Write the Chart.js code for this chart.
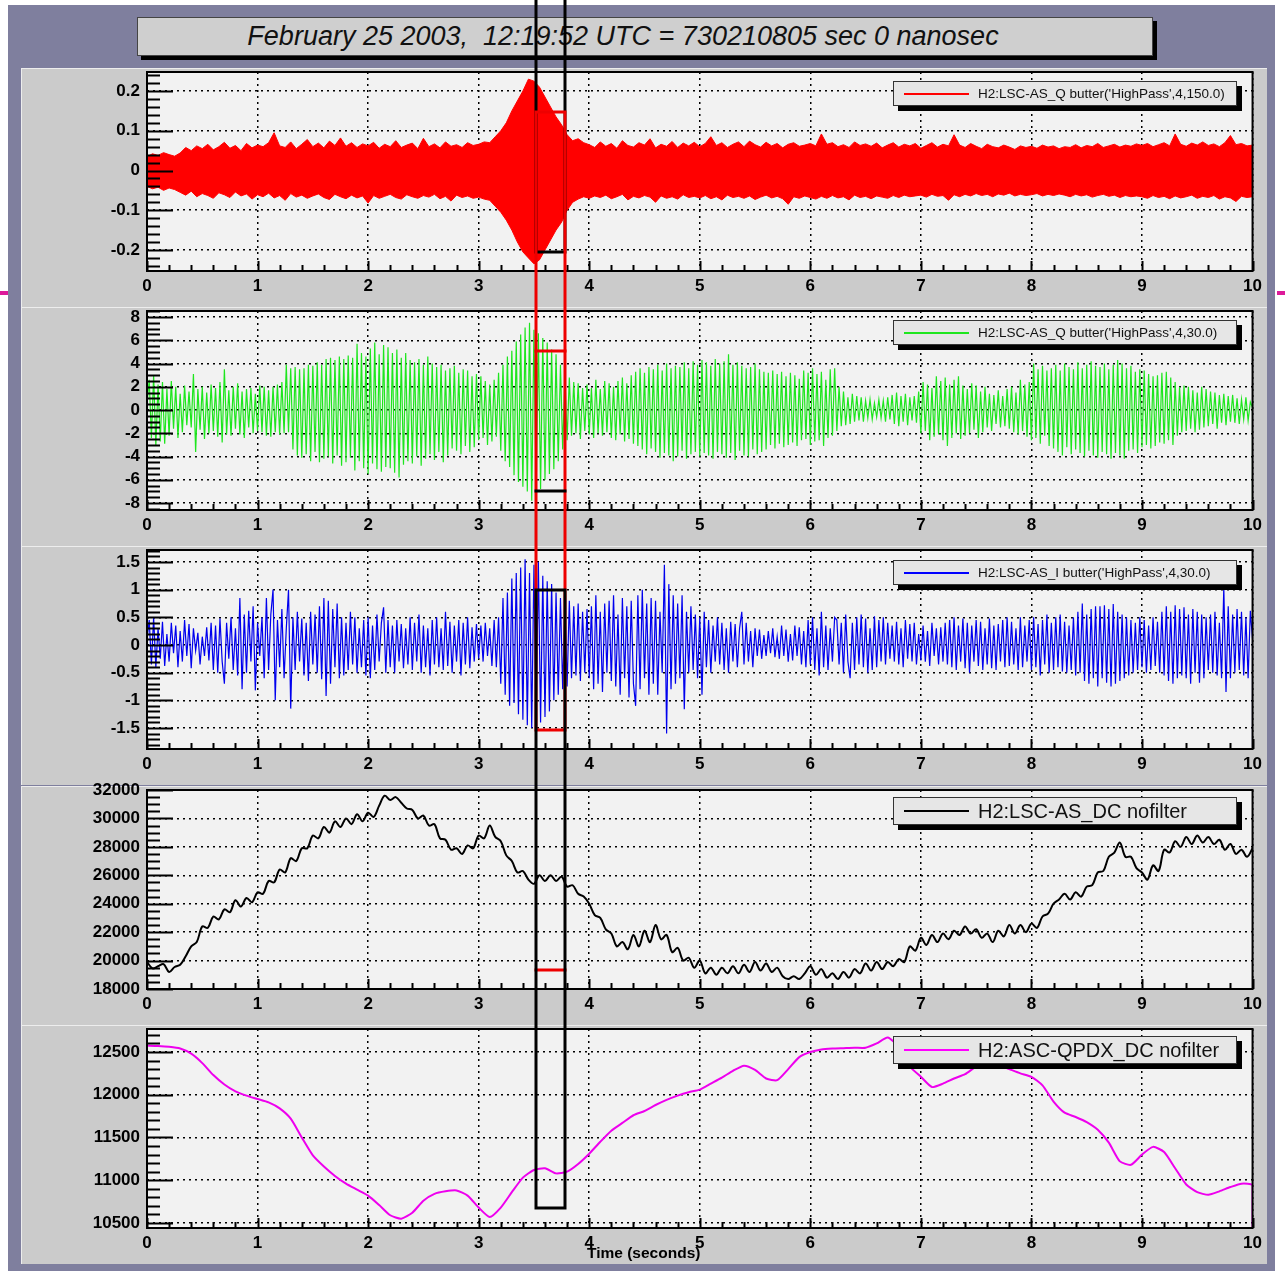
<!DOCTYPE html>
<html>
<head>
<meta charset="utf-8">
<script src="https://cdn.jsdelivr.net/npm/chart.js@4.4.1/dist/chart.umd.min.js"></script>
<style>
  html, body { margin: 0; padding: 0; background: #fff; }
  body { width: 1285px; height: 1271px; position: relative; overflow: hidden; font-family: 'Liberation Sans', Arial, sans-serif; }
  #frame { position: absolute; left: 8px; top: 5px; width: 1267px; height: 1266px; background: #7f7f9e; }
  .panel { position: absolute; left: 21px; width: 1246px; height: 245px; }
  .panel canvas { display: block; }
  #title { position: absolute; left: 137px; top: 17px; width: 970px; padding-right: 44px; height: 37px; background: #cfcfcf; border: 1px solid #444;
           box-shadow: 4px 4px 0 #000; font-style: italic; font-size: 27px; line-height: 37px; text-align: center; white-space: pre; color: #111; }
  .legend { position: absolute; left: 893px; width: 342px; background: #e6e6e6; border: 1px solid #333; box-shadow: 5px 5px 0 #000; }
  .legend i { position: absolute; left: 10px; width: 65px; height: 2px; top: 50%; margin-top: -1px; }
  .legend span { position: absolute; left: 84px; top: 0; white-space: pre; color: #111; }
  .small span { font-size: 13.5px; line-height: 23px; }
  .big span { font-size: 20px; line-height: 26px; }
  #xtitle { position: absolute; left: 587px; top: 1244px; font-size: 15.5px; font-weight: bold; color: #000; white-space: pre; }
  .pink { position: absolute; top: 291px; width: 8px; height: 4px; background: #dd1a9a; }
  #marks { position: absolute; left: 0; top: 0; pointer-events: none; z-index: 10; }
</style>
</head>
<body>
<div id="frame"></div>
<div class="pink" style="left:0"></div>
<div class="pink" style="left:1277px"></div>

<div class="panel" style="top:62px"><canvas id="c0" width="1246" height="245"></canvas></div>
<div class="panel" style="top:301px"><canvas id="c1" width="1246" height="245"></canvas></div>
<div class="panel" style="top:540px"><canvas id="c2" width="1246" height="245"></canvas></div>
<div class="panel" style="top:780px"><canvas id="c3" width="1246" height="245"></canvas></div>
<div class="panel" style="top:1019px"><canvas id="c4" width="1246" height="245"></canvas></div>

<div id="title">February 25 2003,  12:19:52 UTC = 730210805 sec 0 nanosec</div>

<div class="legend small" style="top:81px;height:23px"><i style="background:#f00"></i><span>H2:LSC-AS_Q butter('HighPass',4,150.0)</span></div>
<div class="legend small" style="top:320px;height:23px"><i style="background:#1ee61e"></i><span>H2:LSC-AS_Q butter('HighPass',4,30.0)</span></div>
<div class="legend small" style="top:560px;height:23px"><i style="background:#00f"></i><span>H2:LSC-AS_I butter('HighPass',4,30.0)</span></div>
<div class="legend big" style="top:797px;height:26px"><i style="background:#000"></i><span>H2:LSC-AS_DC nofilter</span></div>
<div class="legend big" style="top:1036px;height:26px"><i style="background:#f0f"></i><span>H2:ASC-QPDX_DC nofilter</span></div>

<div id="xtitle">Time (seconds)</div>
<canvas id="marks" width="1285" height="1271"></canvas>

<script>
// time axis
const X_TICKS = [0, 1, 2, 3, 4, 5, 6, 7, 8, 9, 10];

// tick labels of each pad
const Y_TICKS_Q150 = [-0.2, -0.1, 0, 0.1, 0.2];
const Y_TICKS_Q30 = [-8, -6, -4, -2, 0, 2, 4, 6, 8];
const Y_TICKS_I30 = [-1.5, -1, -0.5, 0, 0.5, 1, 1.5];
const Y_TICKS_DC = [18000, 20000, 22000, 24000, 26000, 28000, 30000, 32000];
const Y_TICKS_QPDX = [10500, 11000, 11500, 12000, 12500];

// H2:LSC-AS_Q 150 Hz high pass, envelope of the dense trace, one value every 0.05 s
const Q150_UPPER = [
  0.035, 0.042, 0.038, 0.045, 0.04, 0.036, 0.044, 0.058, 0.05, 0.062, 0.055, 0.066, 0.052, 0.06, 0.071, 0.056, 0.063, 0.05, 0.068, 0.057,
  0.064, 0.06, 0.07, 0.095, 0.062, 0.058, 0.072, 0.055, 0.066, 0.078, 0.06, 0.069, 0.057, 0.074, 0.063, 0.082, 0.061, 0.07, 0.058, 0.067,
  0.062, 0.071, 0.056, 0.066, 0.06, 0.075, 0.058, 0.064, 0.069, 0.055, 0.081, 0.06, 0.067, 0.057, 0.072, 0.061, 0.065, 0.058, 0.07, 0.063,
  0.066, 0.072, 0.07, 0.085, 0.1, 0.12, 0.15, 0.175, 0.2, 0.23, 0.225, 0.21, 0.185, 0.16, 0.135, 0.115, 0.09, 0.075, 0.08, 0.07,
  0.065, 0.058, 0.072, 0.061, 0.068, 0.056, 0.075, 0.063, 0.059, 0.07, 0.064, 0.08, 0.057, 0.066, 0.061, 0.073, 0.058, 0.069, 0.062, 0.071,
  0.06, 0.068, 0.085, 0.063, 0.07, 0.058, 0.066, 0.072, 0.06, 0.074, 0.065, 0.059, 0.071, 0.062, 0.068, 0.057, 0.066, 0.07, 0.061, 0.064,
  0.068, 0.062, 0.092, 0.066, 0.07, 0.06, 0.065, 0.058, 0.072, 0.063, 0.067, 0.061, 0.069, 0.057, 0.064, 0.07, 0.059, 0.066, 0.062, 0.068,
  0.056, 0.063, 0.07, 0.059, 0.066, 0.062, 0.09, 0.064, 0.058, 0.068, 0.061, 0.055, 0.066, 0.06, 0.057, 0.064, 0.059, 0.053, 0.062, 0.058,
  0.061, 0.056, 0.064, 0.059, 0.062, 0.055, 0.06, 0.058, 0.065, 0.057, 0.063, 0.06, 0.068, 0.058, 0.062, 0.066, 0.059, 0.064, 0.061, 0.067,
  0.063, 0.068, 0.06, 0.065, 0.07, 0.062, 0.092, 0.066, 0.061, 0.069, 0.064, 0.072, 0.063, 0.067, 0.06, 0.07, 0.088, 0.065, 0.068, 0.062,
  0.064
];
const Q150_LOWER = [
  -0.04, -0.046, -0.042, -0.05, -0.044, -0.048, -0.055, -0.062, -0.052, -0.066, -0.058, -0.063, -0.07, -0.056, -0.061, -0.068, -0.054, -0.064, -0.059, -0.072,
  -0.061, -0.066, -0.057, -0.069, -0.063, -0.075, -0.058, -0.067, -0.062, -0.07, -0.064, -0.059, -0.068, -0.073, -0.06, -0.066, -0.071, -0.062, -0.069, -0.064,
  -0.082, -0.063, -0.07, -0.065, -0.06, -0.068, -0.072, -0.061, -0.066, -0.07, -0.063, -0.067, -0.06, -0.071, -0.065, -0.077, -0.062, -0.068, -0.064, -0.07,
  -0.067, -0.072, -0.075, -0.09, -0.105, -0.125, -0.15, -0.18, -0.205, -0.22, -0.235, -0.225, -0.2, -0.175, -0.15, -0.13, -0.1, -0.08, -0.072, -0.066,
  -0.07, -0.064, -0.068, -0.062, -0.071, -0.066, -0.06, -0.074, -0.065, -0.069, -0.063, -0.067, -0.08, -0.064, -0.07, -0.066, -0.072, -0.061, -0.068, -0.065,
  -0.069, -0.063, -0.071, -0.066, -0.074, -0.062, -0.068, -0.065, -0.07, -0.064, -0.073, -0.067, -0.062, -0.069, -0.065, -0.071, -0.085, -0.066, -0.07, -0.064,
  -0.068, -0.072, -0.065, -0.07, -0.063, -0.069, -0.066, -0.074, -0.062, -0.068, -0.065, -0.071, -0.064, -0.067, -0.07, -0.063, -0.068, -0.062, -0.066, -0.064,
  -0.062, -0.067, -0.06, -0.065, -0.063, -0.075, -0.061, -0.066, -0.06, -0.064, -0.058, -0.063, -0.06, -0.066, -0.059, -0.062, -0.057, -0.064, -0.06, -0.063,
  -0.061, -0.058, -0.064, -0.06, -0.063, -0.059, -0.062, -0.066, -0.06, -0.064, -0.061, -0.067, -0.063, -0.06, -0.065, -0.062, -0.068, -0.063, -0.066, -0.064,
  -0.066, -0.07, -0.063, -0.068, -0.065, -0.071, -0.064, -0.069, -0.066, -0.062, -0.07, -0.065, -0.068, -0.063, -0.072, -0.066, -0.069, -0.078, -0.065, -0.068,
  -0.066
];
const Q150_END = -0.253;

// H2:LSC-AS_Q 30 Hz high pass, one value every 0.02 s
const Q30 = [
  0.5, 2.6, -2.4, 3.0, -3.1, 2.2, -2.7, 2.4, -2.9, 1.8,
  -2.2, 2.5, -1.6, 2.0, -2.4, 1.4, -1.9, 2.1, -1.3, 1.6,
  -1.5, 3.1, -3.6, 1.8, -1.7, 2.0, -2.5, 1.5, -2.0, 2.2,
  -1.8, 1.9, -2.3, 2.4, -2.8, 3.5, -2.1, 1.7, -2.2, 2.0,
  -1.6, 2.3, -2.1, 1.6, -2.4, 1.8, -1.5, 1.9, -2.0, 1.4,
  -1.8, 2.1, -1.9, 2.0, -2.2, 1.7, -2.3, 2.0, -1.9, 2.2,
  -2.1, 2.4, -2.0, 3.9, -1.9, 3.6, -3.4, 3.7, -3.9, 3.5,
  -4.1, 3.6, -3.8, 3.9, -4.4, 3.8, -3.6, 4.1, -4.5, 3.9,
  -4.2, 4.4, -4.0, 4.5, -4.6, 4.3, -3.9, 4.6, -4.8, 4.4,
  -4.5, 4.7, -4.1, 4.5, -5.2, 5.7, -4.4, 4.9, -5.0, 4.6,
  -5.5, 5.3, -4.6, 5.8, -5.1, 4.8, -5.3, 5.6, -4.9, 5.4,
  -5.0, 4.9, -5.4, 5.2, -5.8, 4.5, -4.7, 4.9, -4.4, 4.3,
  -4.6, 4.1, -4.0, 4.4, -4.8, 3.9, -4.2, 4.6, -3.8, 4.0,
  -4.3, 3.7, -3.6, 3.9, -4.5, 3.4, -3.9, 3.6, -3.3, 3.8,
  -3.5, 3.2, -3.8, 3.5, -3.1, 3.4, -3.6, 2.9, -3.2, 3.1,
  -2.6, 2.9, -2.4, 2.5, -3.0, 2.2, -2.7, 2.6, -2.3, 3.2,
  -3.5, 3.9, -4.4, 4.6, -4.9, 5.1, -5.6, 5.9, -6.2, 6.5,
  -6.6, 7.1, -7.0, 7.5, -7.8, 6.9, -7.2, 6.6, -6.8, 6.2,
  -6.0, 5.8, -5.5, 5.2, -5.1, 4.8, -4.4, 3.9, -3.4, 2.9,
  -2.6, 2.8, -2.2, 2.4, -2.0, 2.3, -2.5, 1.9, -1.8, 2.2,
  -2.1, 1.9, -2.4, 2.6, -2.0, 1.8, -2.2, 2.5, -1.9, 2.3,
  -2.4, 2.0, -2.6, 2.5, -2.1, 2.8, -2.7, 2.3, -2.5, 3.0,
  -2.9, 3.3, -3.1, 3.6, -3.4, 3.2, -3.8, 3.7, -3.3, 3.5,
  -3.6, 3.9, -4.1, 3.4, -3.7, 4.0, -3.9, 3.6, -4.4, 3.8,
  -4.0, 3.7, -3.5, 4.1, -4.2, 3.6, -3.8, 4.2, -3.6, 3.9,
  -4.0, 4.3, -3.7, 4.1, -3.9, 3.8, -4.2, 4.4, -3.6, 4.0,
  -3.8, 4.2, -4.1, 4.8, -3.7, 3.9, -4.3, 4.1, -3.5, 3.8,
  -3.9, 3.6, -4.0, 3.7, -3.4, 4.0, -3.8, 3.5, -3.6, 3.3,
  -3.4, 3.2, -3.0, 3.4, -3.3, 3.1, -2.9, 3.3, -3.2, 2.9,
  -3.0, 3.2, -2.8, 3.0, -3.1, 2.7, -2.6, 3.4, -2.5, 3.2,
  -3.0, 3.6, -2.7, 3.1, -2.6, 3.3, -3.1, 2.6, -2.4, 3.5,
  -2.2, 3.6, -1.8, 2.0, -1.4, 1.6, -1.3, 1.1, -1.2, 1.4,
  -1.0, 1.2, -0.9, 1.1, -1.0, 0.8, -0.7, 0.9, -0.8, 0.6,
  -0.6, 0.9, -0.7, 0.8, -1.0, 1.1, -0.8, 1.3, -1.2, 1.5,
  -1.4, 1.2, -1.0, 1.4, -1.3, 1.1, -0.9, 1.2, -1.1, 1.6,
  -2.0, 2.4, -1.8, 2.2, -2.6, 1.9, -2.3, 2.9, -2.1, 2.5,
  -2.6, 2.8, -3.1, 2.2, -2.4, 2.6, -2.0, 2.9, -2.5, 2.1,
  -2.2, 1.8, -2.0, 2.3, -1.7, 2.1, -2.4, 1.6, -1.9, 2.0,
  -1.5, 1.4, -1.8, 1.3, -1.2, 1.7, -1.5, 1.2, -1.4, 1.8,
  -1.6, 2.0, -1.9, 1.5, -2.1, 2.6, -1.8, 2.2, -2.3, 2.4,
  -2.6, 4.0, -2.4, 3.5, -2.9, 3.8, -2.2, 3.4, -3.1, 3.6,
  -3.3, 3.9, -3.6, 3.4, -3.9, 4.0, -3.2, 3.7, -3.8, 3.5,
  -3.4, 4.1, -3.7, 3.6, -4.0, 3.9, -3.5, 4.2, -3.9, 3.8,
  -4.1, 3.7, -3.6, 4.0, -3.8, 3.5, -4.2, 3.9, -3.7, 4.3,
  -3.9, 4.0, -4.2, 3.6, -3.5, 3.8, -3.4, 3.3, -3.7, 3.5,
  -3.2, 3.4, -3.0, 3.1, -3.3, 2.9, -3.1, 3.0, -2.8, 3.2,
  -2.9, 3.3, -2.6, 2.8, -3.0, 2.4, -2.2, 2.0, -1.9, 2.1,
  -1.8, 2.0, -1.6, 1.7, -1.9, 1.5, -1.7, 2.0, -1.5, 1.8,
  -1.4, 1.6, -1.2, 1.5, -1.6, 1.3, -1.1, 1.4, -1.3, 1.2,
  -1.0, 1.3, -1.1, 1.0, -1.2, 0.9, -0.8, 1.1, -0.9, 0.7,
  0.2
];
const Q30_END = -8.6;

// H2:LSC-AS_I 30 Hz high pass, one value every 0.02 s
const I30 = [
  0.1, 0.45, -0.35, 0.5, -0.4, 0.3, -0.25, 0.42, -0.38, 0.2,
  -0.3, 0.4, -0.15, 0.35, -0.4, 0.25, -0.3, 0.45, -0.2, 0.38,
  -0.42, 0.3, -0.1, 0.22, -0.35, 0.15, -0.2, 0.32, -0.28, 0.4,
  -0.45, 0.35, -0.5, 0.48, -0.3, -0.7, 0.4, -0.25, 0.5, -0.45,
  0.3, -0.55, 0.85, -0.8, 0.55, -0.5, 0.62, -0.3, 0.7, -0.82,
  0.4, -0.2, 0.5, -0.6, 0.85, -0.45, 0.55, 1.0, -1.0, 0.45,
  -0.4, 0.65, -0.6, 0.3, 1.0, -1.15, 0.5, -0.45, 0.6, -0.3,
  0.48, -0.55, 0.4, -0.65, 0.6, -0.35, 0.55, -0.5, 0.7, -0.62,
  0.85, -0.92, 0.8, -0.7, 0.65, -0.4, 0.75, -0.6, 0.5, -0.55,
  0.4, -0.45, 0.6, -0.35, 0.5, -0.5, 0.3, -0.4, 0.45, -0.55,
  0.5, -0.6, 0.35, -0.45, 0.55, -0.3, 0.4, 0.68, -0.5, 0.45,
  -0.4, 0.35, -0.5, 0.45, -0.3, 0.38, -0.42, 0.3, -0.35, 0.5,
  -0.45, 0.4, -0.3, 0.55, -0.5, 0.35, -0.4, 0.3, -0.55, 0.45,
  -0.35, 0.5, -0.4, 0.3, -0.45, 0.6, -0.38, 0.42, -0.5, 0.35,
  -0.3, 0.45, -0.55, 0.4, -0.35, 0.5, -0.42, 0.32, -0.3, 0.38,
  -0.25, 0.35, -0.3, 0.4, -0.2, 0.3, -0.38, 0.45, -0.4, 0.5,
  -0.7, 0.85, -0.9, 0.95, -1.1, 1.2, -1.05, 1.3, -1.25, 1.4,
  -1.35, 1.55, -1.45, 1.3, -1.5, 1.45, -1.3, 1.5, -1.4, 1.25,
  -1.3, 1.15, -1.2, 1.1, -1.0, 0.95, -0.9, 0.85, -0.8, 0.7,
  -0.75, 0.8, -0.6, 0.7, -0.55, 0.75, -0.65, 0.6, -0.5, 0.65,
  -0.6, 0.7, -0.8, 0.9, -0.7, 0.6, -0.85, 0.75, -0.5, 0.8,
  -0.65, 0.9, -0.75, 0.55, -0.9, 0.85, -0.6, 0.7, -0.95, 0.8,
  -0.7, -1.1, 0.9, -0.8, 1.0, -0.6, 0.75, -0.9, 0.85, -0.7,
  0.8, -0.9, 0.6, -0.5, 1.45, -1.6, 1.1, -0.8, 0.9, -0.7,
  0.75, -0.6, 0.9, -1.16, 0.6, -0.5, 0.7, -0.45, 0.55, -0.6,
  0.5, -0.9, 0.6, -0.4, 0.45, -0.5, 0.35, -0.3, 0.5, -0.35,
  0.4, -0.45, 0.3, -0.5, 0.42, -0.3, 0.38, -0.4, 0.3, 0.6,
  -0.35, 0.4, -0.3, 0.25, -0.4, 0.3, -0.2, 0.28, -0.25, 0.18,
  -0.2, 0.25, -0.15, 0.3, -0.22, 0.15, -0.25, 0.35, -0.2, 0.28,
  -0.3, 0.2, -0.28, 0.35, -0.2, 0.32, -0.35, 0.25, -0.4, 0.45,
  -0.35, 0.5, -0.45, 0.3, -0.55, 0.6, -0.4, 0.35, -0.45, 0.3,
  -0.3, 0.5, 0.45, -0.35, 0.4, -0.5, 0.55, -0.3, -0.6, 0.4,
  -0.45, 0.5, -0.35, 0.55, -0.4, 0.48, -0.5, 0.3, -0.45, 0.52,
  -0.4, 0.45, -0.3, 0.5, -0.35, 0.4, -0.25, 0.35, -0.3, 0.42,
  -0.35, 0.3, -0.4, 0.45, -0.25, 0.38, -0.3, 0.4, -0.35, 0.2,
  -0.28, 0.35, -0.3, 0.25, -0.38, 0.4, -0.2, 0.3, -0.35, 0.32,
  -0.3, 0.4, -0.35, 0.45, -0.4, 0.5, -0.45, 0.35, -0.3, 0.48,
  -0.42, 0.4, -0.5, 0.35, -0.3, 0.45, -0.38, 0.42, -0.45, 0.3,
  -0.35, 0.48, -0.42, 0.35, -0.45, 0.38, -0.3, 0.45, -0.4, 0.5,
  -0.38, 0.42, -0.35, 0.3, -0.45, 0.5, -0.4, 0.35, -0.3, 0.45,
  -0.45, 0.5, -0.4, 0.38, -0.55, 0.45, -0.35, 0.55, -0.5, 0.4,
  -0.45, 0.5, -0.4, 0.55, -0.48, 0.42, -0.5, 0.35, -0.45, 0.5,
  -0.55, 0.6, -0.5, 0.75, -0.65, 0.55, -0.7, 0.65, -0.6, 0.7,
  -0.75, 0.7, -0.6, 0.72, -0.68, 0.65, -0.75, 0.74, -0.7, 0.6,
  -0.65, 0.55, -0.6, 0.5, -0.55, 0.45, -0.5, 0.4, -0.45, 0.5,
  -0.4, 0.45, -0.5, 0.35, -0.45, 0.5, -0.38, 0.42, -0.5, 0.6,
  -0.55, 0.7, -0.65, 0.6, -0.7, 0.72, -0.6, 0.65, -0.55, 0.68,
  -0.6, 0.55, -0.7, 0.65, -0.5, 0.6, -0.68, 0.55, -0.6, 0.5,
  -0.45, 0.55, -0.5, 0.6, -0.55, 0.4, -0.6, 1.04, -0.85, 0.7,
  -0.6, 0.55, -0.5, 0.65, -0.45, 0.6, -0.55, 0.5, -0.6, 0.62,
  0.1
];
const I30_END = -1.85;

// H2:LSC-AS_DC, one value every 0.05 s
const AS_DC = [
  19900, 19450, 19600, 19750, 19200, 19550, 19700, 20300, 21000, 21300, 22400, 22300, 23100, 22900, 23600, 23400, 24250, 23800, 24400, 24100,
  24800, 24700, 25600, 25500, 26400, 26200, 27200, 27000, 27900, 27900, 28800, 28600, 29400, 29000, 29800, 29400, 30000, 29600, 30300, 29800,
  30400, 30100, 30900, 31600, 31300, 31500, 31100, 30700, 30600, 30000, 30200, 29500, 29600, 28600, 28500, 27800, 27900, 27500, 28100, 27900,
  28800, 28600, 29500, 28700, 28400, 27400, 27000, 26200, 26300, 25700, 25400, 26000, 25600, 26000, 25600, 25900, 25200, 25300, 24700, 24500,
  24000, 23200, 23000, 22200, 21900, 21000, 21300, 20800, 21800, 21000, 22100, 21300, 22500, 21500, 21800, 20600, 20900, 20000, 20200, 19500,
  20000, 19100, 19500, 19000, 19500, 19100, 19600, 19100, 19700, 19200, 19900, 19300, 19800, 19200, 19500, 18900, 18700, 18900, 18700, 19100,
  19600, 19000, 19400, 18800, 19100, 18700, 19200, 18800, 19400, 19100, 19800, 19300, 19900, 19400, 19900, 19600, 20100, 19900, 21000, 20700,
  21600, 21100, 21800, 21300, 21900, 21500, 22100, 21800, 22400, 21900, 22200, 21600, 21900, 21300, 22100, 21700, 22500, 21900, 22500, 22000,
  22600, 22300, 23100, 23300, 24000, 24300, 24700, 24300, 24800, 24500, 25200, 25300, 26200, 26300, 27300, 27600, 28300, 27300, 27300, 26500,
  26200, 25700, 26700, 26300, 27800, 27600, 28400, 28000, 28700, 28200, 28800, 28300, 28700, 28200, 28500, 27800, 28200, 27500, 27800, 27300,
  27900
];

// H2:ASC-QPDX_DC, one value every 0.1 s
const QPDX_DC = [
  12575, 12570, 12560, 12540, 12480, 12370, 12230, 12120, 12040, 11990,
  11950, 11910, 11840, 11720, 11500, 11290, 11160, 11050, 10960, 10890,
  10820, 10710, 10590, 10550, 10620, 10760, 10840, 10870, 10880, 10820,
  10680, 10570, 10680, 10860, 11030, 11120, 11140, 11080, 11100, 11190,
  11310, 11450, 11580, 11670, 11760, 11810, 11880, 11940, 11990, 12030,
  12060, 12130, 12200, 12280, 12340, 12290, 12190, 12170, 12300, 12440,
  12500, 12530, 12540, 12545, 12550, 12550, 12600, 12670, 12560, 12330,
  12210, 12090, 12130, 12190, 12240, 12330, 12380, 12350, 12300, 12250,
  12210, 12110, 11920, 11790, 11740, 11680, 11590, 11440, 11220, 11180,
  11300, 11390, 11330, 11140, 10950, 10860, 10830, 10870, 10920, 10960,
  10940
];
const QPDX_END = 10445;

// the time window drawn across the pads: [colour, pad, top value, pad, bottom value]
const WINDOW_X = [3.52, 3.78];
const WINDOW_BOXES = [
  ['#000', 0, 0.6, 0, -0.205],
  ['#e00', 0, 0.1475, 2, -1.54],
  ['#000', 2, 1.0, 4, 10675]
];
const WINDOW_MARKS = [['#e00', 1, 5.1], ['#000', 1, -6.95], ['#e00', 3, 19350]];

// each canvas starts LIFT px above its pad so the top tick label is not cut
const LIFT = 6;
const CANVAS_TOP = [62, 301, 540, 780, 1019];
const PANEL_LEFT = 21;

function series(values, step, endValue) {
  const pts = values.map((v, i) => ({ x: Math.round(i * step * 1000) / 1000, y: v }));
  if (endValue !== undefined) pts.push({ x: 10, y: endValue });
  return pts;
}

Chart.defaults.font.family = "'Liberation Sans', Arial, sans-serif";

const rootFrame = {
  id: 'rootFrame',
  beforeDraw(chart) {
    const { ctx, width, height, chartArea: a } = chart;
    ctx.save();
    ctx.fillStyle = '#cbcbcb';
    ctx.fillRect(0, LIFT, width, height - LIFT);
    ctx.fillStyle = '#ededed';
    ctx.fillRect(0, LIFT, width, 1);
    ctx.fillRect(0, LIFT, 1, height - LIFT);
    ctx.fillStyle = '#f2f2f2';
    ctx.fillRect(a.left, a.top, a.right - a.left, a.bottom - a.top);
    ctx.restore();
  },
  afterDatasetsDraw(chart, args, opts) {
    const { ctx, chartArea: a } = chart;
    const xs = chart.scales.x, ys = chart.scales.y;
    ctx.save();
    ctx.strokeStyle = '#000';
    ctx.lineWidth = 2;
    ctx.beginPath();
    // y ticks, inside the frame
    for (let k = Math.ceil(ys.min / opts.minor); k * opts.minor <= ys.max; k++) {
      const v = k * opts.minor;
      const major = opts.major.some(m => Math.abs(m - v) < opts.minor / 10);
      const y = Math.round(ys.getPixelForValue(v)) + 0.5;
      ctx.moveTo(a.left, y);
      ctx.lineTo(a.left + (major ? 26 : 13), y);
    }
    // x ticks
    for (let k = 0; k <= 50; k++) {
      const v = k * 0.2;
      const x = Math.round(xs.getPixelForValue(v)) + 0.5;
      ctx.moveTo(x, a.bottom);
      ctx.lineTo(x, a.bottom - (k % 5 === 0 ? 10 : 6));
    }
    ctx.stroke();
    ctx.strokeRect(a.left, a.top, a.right - a.left, a.bottom - a.top);
    ctx.restore();
  }
};

function makeChart(id, datasets, yMin, yMax, yTicks, minor) {
  const tickFont = { size: 17, weight: 'bold' };
  return new Chart(document.getElementById(id), {
    type: 'line',
    data: { datasets },
    options: {
      responsive: false,
      animation: false,
      devicePixelRatio: 1,
      events: [],
      parsing: false,
      layout: { padding: { top: 4 + LIFT, right: 12, left: 0, bottom: 0 } },
      plugins: { legend: { display: false }, tooltip: { enabled: false }, rootFrame: { major: yTicks, minor } },
      elements: { point: { radius: 0 }, line: { tension: 0 } },
      scales: {
        x: {
          type: 'linear', min: 0, max: 10,
          afterBuildTicks: s => { s.ticks = X_TICKS.map(v => ({ value: v })); },
          afterFit: s => { s.height = 36; },
          ticks: { color: '#000', font: tickFont, padding: 5, maxRotation: 0, autoSkip: false, callback: v => String(v) },
          grid: { color: '#000', lineWidth: 1.5, drawTicks: false },
          border: { display: false, dash: [2, 4] }
        },
        y: {
          type: 'linear', min: yMin, max: yMax,
          afterBuildTicks: s => { s.ticks = yTicks.map(v => ({ value: v })); },
          afterFit: s => { s.width = 126; s.paddingTop = 0; s.paddingBottom = 0; },
          ticks: { color: '#000', font: tickFont, padding: 7, autoSkip: false, callback: v => String(v) },
          grid: { color: '#000', lineWidth: 1.5, drawTicks: false },
          border: { display: false, dash: [2, 4] }
        }
      }
    },
    plugins: [rootFrame]
  });
}

const charts = [
  makeChart('c0', [
    { data: series(Q150_UPPER, 0.05), borderColor: '#f00', backgroundColor: '#f00', borderWidth: 1, fill: '+1' },
    { data: series(Q150_LOWER, 0.05, Q150_END), borderColor: '#f00', borderWidth: 1, fill: false }
  ], -0.253, 0.248, Y_TICKS_Q150, 0.02),
  makeChart('c1', [
    { data: series(Q30, 0.02, Q30_END), borderColor: '#1ee61e', borderWidth: 1.2, fill: false }
  ], -8.6, 8.52, Y_TICKS_Q30, 0.5),
  makeChart('c2', [
    { data: series(I30, 0.02, I30_END), borderColor: '#0000ee', borderWidth: 1.2, fill: false }
  ], -1.88, 1.717, Y_TICKS_I30, 0.1),
  makeChart('c3', [
    { data: series(AS_DC, 0.05), borderColor: '#000', borderWidth: 2, fill: false, tension: 0.35 }
  ], 18000, 32000, Y_TICKS_DC, 500),
  makeChart('c4', [
    { data: series(QPDX_DC, 0.1, QPDX_END), borderColor: '#ee00ee', borderWidth: 2, fill: false, tension: 0.2 }
  ], 10441, 12769, Y_TICKS_QPDX, 100)
];

// window boxes drawn over all pads, placed with each pad's own scales
function drawWindow() {
  const ctx = document.getElementById('marks').getContext('2d');
  const px = v => PANEL_LEFT + Math.round(charts[0].scales.x.getPixelForValue(v));
  const py = (p, v) => CANVAS_TOP[p] + Math.round(charts[p].scales.y.getPixelForValue(v));
  const x0 = px(WINDOW_X[0]), x1 = px(WINDOW_X[1]);
  ctx.lineWidth = 3;
  ctx.lineCap = 'square';
  const box = b => {
    const yt = py(b[1], b[2]), yb = py(b[3], b[4]);
    ctx.strokeStyle = b[0];
    ctx.strokeRect(x0, yt, x1 - x0, yb - yt);
  };
  const mark = m => {
    const y = py(m[1], m[2]);
    ctx.strokeStyle = m[0];
    ctx.beginPath(); ctx.moveTo(x0, y); ctx.lineTo(x1, y); ctx.stroke();
  };
  box(WINDOW_BOXES[0]);
  box(WINDOW_BOXES[1]);
  WINDOW_MARKS.forEach(mark);
  box(WINDOW_BOXES[2]);
}
drawWindow();
</script>
</body>
</html>
